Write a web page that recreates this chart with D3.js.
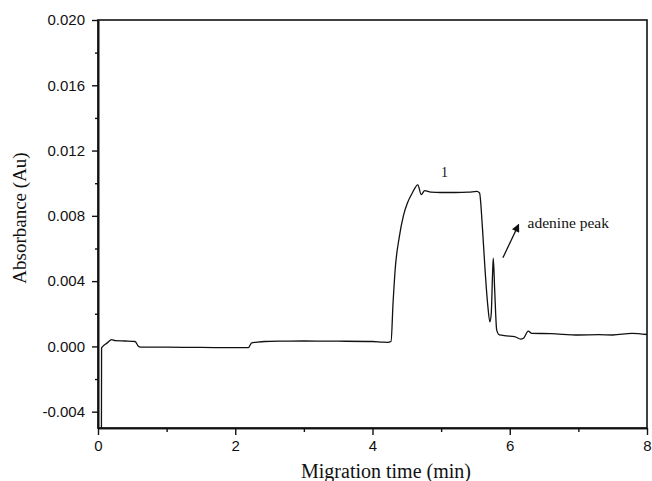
<!DOCTYPE html>
<html>
<head>
<meta charset="utf-8">
<script src="https://cdn.jsdelivr.net/npm/d3@7"></script>
<style>
  body { margin: 0; background: #fff; }
  svg { display: block; }
</style>
</head>
<body>
<div id="chart"></div>
<script>
// electropherogram trace
const times = [0.05, 0.052, 0.07, 0.13, 0.2, 0.25, 0.4, 0.54, 0.59, 0.62, 1.0, 1.5, 2.0, 2.19, 2.24, 2.3, 2.43, 2.7, 3.0, 3.5, 4.0, 4.15, 4.22, 4.27, 4.30, 4.33, 4.39, 4.45, 4.51, 4.58, 4.66, 4.71, 4.76, 4.85, 5.0, 5.2, 5.4, 5.52, 5.56, 5.6, 5.64, 5.68, 5.71, 5.73, 5.75, 5.76, 5.78, 5.81, 5.85, 5.95, 6.07, 6.16, 6.2, 6.27, 6.32, 6.6, 7.0, 7.3, 7.5, 7.78, 8.0];
const absorbance = [-0.005, -0.0001, 0.0, 0.0002, 0.00042, 0.00035, 0.00033, 0.0003, 0.0, -0.00004, -0.00005, -0.00006, -0.00008, -0.00008, 0.00022, 0.00025, 0.0003, 0.00032, 0.00033, 0.00032, 0.0003, 0.00026, 0.00025, 0.0003, 0.0027, 0.0047, 0.0067, 0.0080, 0.0088, 0.0094, 0.0099, 0.0093, 0.00955, 0.00945, 0.00943, 0.00943, 0.00945, 0.0095, 0.0094, 0.0074, 0.0047, 0.0025, 0.0015, 0.0020, 0.0045, 0.0054, 0.0035, 0.0010, 0.0007, 0.00065, 0.0006, 0.00045, 0.0005, 0.00094, 0.0008, 0.00078, 0.0007, 0.00072, 0.0007, 0.0008, 0.00073];

const xMajor = [0, 2, 4, 6, 8];
const xMinor = [1, 3, 5, 7];
const yMajor = [-0.004, 0.0, 0.004, 0.008, 0.012, 0.016, 0.020];
const yMinor = [-0.002, 0.002, 0.006, 0.010, 0.014, 0.018];

const width = 652;
const height = 481;
const margin = { top: 20, right: 5, bottom: 53, left: 98 };

const svg = d3.select('#chart')
    .append('svg')
    .attr('width', width)
    .attr('height', height);

const x = d3.scaleLinear().domain([0, 8]).range([margin.left, width - margin.right]);
const y = d3.scaleLinear().domain([-0.005, 0.020]).range([height - margin.bottom, margin.top]);

const points = times.map((t, i) => ({ t, a: absorbance[i] }));

// frame
svg.append('rect')
    .attr('x', x(0))
    .attr('y', y(0.020))
    .attr('width', x(8) - x(0))
    .attr('height', y(-0.005) - y(0.020))
    .attr('fill', 'none')
    .attr('stroke', '#111')
    .attr('stroke-width', 1.6);

// axes
const styleAxis = g => {
    g.select('.domain').attr('stroke', '#111').attr('stroke-width', 1.6);
    g.selectAll('.tick line').attr('stroke', '#111').attr('stroke-width', 1.4);
    g.selectAll('.tick text')
        .attr('fill', '#111')
        .style('font-family', 'Liberation Sans, Arial, sans-serif')
        .style('font-size', '15px');
};

// plain hyphen for negatives, as in the figure
const yFormat = d => d3.format('.3f')(d).replace('\u2212', '-');

svg.append('g')
    .attr('transform', `translate(0,${y(-0.005)})`)
    .call(d3.axisBottom(x).tickValues(xMinor).tickSize(4).tickSizeOuter(0).tickFormat(''))
    .call(styleAxis);

svg.append('g')
    .attr('transform', `translate(0,${y(-0.005)})`)
    .call(d3.axisBottom(x).tickValues(xMajor).tickSize(7).tickSizeOuter(0).tickPadding(5).tickFormat(d3.format('d')))
    .call(styleAxis);

svg.append('g')
    .attr('transform', `translate(${x(0)},0)`)
    .call(d3.axisLeft(y).tickValues(yMinor).tickSize(3).tickSizeOuter(0).tickFormat(''))
    .call(styleAxis);

svg.append('g')
    .attr('transform', `translate(${x(0)},0)`)
    .call(d3.axisLeft(y).tickValues(yMajor).tickSize(6).tickSizeOuter(0).tickPadding(7).tickFormat(yFormat))
    .call(styleAxis);

// trace
const line = d3.line()
    .curve(d3.curveMonotoneX)
    .x(d => x(d.t))
    .y(d => y(d.a));

svg.append('path')
    .datum(points)
    .attr('d', line)
    .attr('fill', 'none')
    .attr('stroke', '#111')
    .attr('stroke-width', 1.3)
    .attr('stroke-linejoin', 'round');

// axis titles
svg.append('text')
    .attr('x', 386)
    .attr('y', 478)
    .attr('text-anchor', 'middle')
    .style('font-family', 'Liberation Serif, Times New Roman, serif')
    .style('font-size', '20px')
    .attr('fill', '#111')
    .text('Migration time (min)');

svg.append('text')
    .attr('transform', `translate(26,${218}) rotate(-90)`)
    .attr('text-anchor', 'middle')
    .style('font-family', 'Liberation Serif, Times New Roman, serif')
    .style('font-size', '19px')
    .attr('fill', '#111')
    .text('Absorbance (Au)');

// annotations
svg.append('text')
    .attr('x', x(5.05))
    .attr('y', y(0.0104))
    .attr('text-anchor', 'middle')
    .style('font-family', 'Liberation Serif, Times New Roman, serif')
    .style('font-size', '14px')
    .attr('fill', '#111')
    .text('1');

svg.append('defs').append('marker')
    .attr('id', 'arrow')
    .attr('viewBox', '0 0 10 10')
    .attr('refX', 9)
    .attr('refY', 5)
    .attr('markerWidth', 9)
    .attr('markerHeight', 8)
    .attr('markerUnits', 'userSpaceOnUse')
    .attr('orient', 'auto')
    .append('path')
    .attr('d', 'M0,0L10,5L0,10Z')
    .attr('fill', '#111');

svg.append('line')
    .attr('x1', x(5.90))
    .attr('y1', y(0.00543))
    .attr('x2', x(6.13))
    .attr('y2', y(0.00747))
    .attr('stroke', '#111')
    .attr('stroke-width', 1.3)
    .attr('marker-end', 'url(#arrow)');

svg.append('text')
    .attr('x', x(6.26))
    .attr('y', y(0.00727))
    .style('font-family', 'Liberation Serif, Times New Roman, serif')
    .style('font-size', '15.5px')
    .attr('fill', '#111')
    .text('adenine peak');
</script>
</body>
</html>
